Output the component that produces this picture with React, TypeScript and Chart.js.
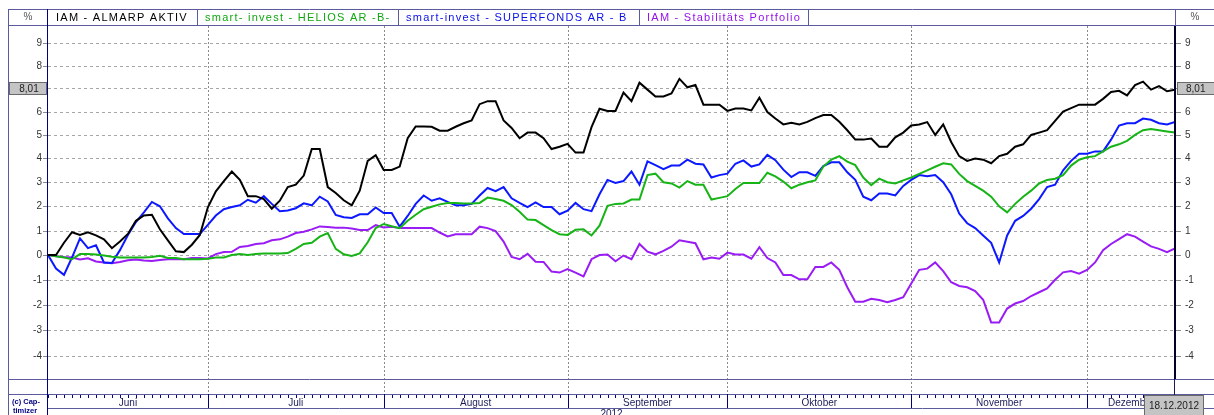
import React, { useEffect, useRef } from 'react';
import { Chart, registerables } from 'chart.js';

Chart.register(...registerables);

// ---- data (cumulative performance in %, one value per trading day) ----
const almarp = [
  0, 0, 0.5, 0.93, 0.82, 0.93, 0.8, 0.64, 0.28, 0.55,
  0.86, 1.4, 1.62, 1.65, 1.05, 0.6, 0.15, 0.12, 0.42, 0.82,
  1.96, 2.62, 3.05, 3.45, 3.1, 2.42, 2.42, 2.3, 1.9, 2.23,
  2.8, 2.9, 3.28, 4.4, 4.4, 2.8, 2.55, 2.25, 2.04, 2.65,
  3.9, 4.14, 3.52, 3.52, 3.66, 4.86, 5.36, 5.36, 5.35, 5.18,
  5.18, 5.35, 5.5, 5.62, 6.32, 6.45, 6.45, 5.62, 5.3, 4.86,
  5.1, 5.1, 4.86, 4.4, 4.5, 4.62, 4.25, 4.25, 5.33, 6.12,
  6.03, 6.03, 6.82, 6.45, 7.25, 6.95, 6.65, 6.65, 6.78, 7.42,
  7.05, 7.15, 6.3, 6.3, 6.3, 6.03, 6.13, 6.13, 6.05, 6.6,
  5.98, 5.7, 5.45, 5.52, 5.45, 5.56, 5.72, 5.85, 5.85, 5.56,
  5.2, 4.8, 4.8, 4.85, 4.5, 4.5, 4.9, 5.1, 5.4, 5.45,
  5.55, 5.0, 5.45, 4.7, 4.1, 3.9, 4.0, 3.95, 3.8, 4.1,
  4.2, 4.5, 4.6, 5.0, 5.1, 5.2, 5.6, 6.0, 6.15, 6.3,
  6.3, 6.3, 6.55, 6.85, 6.9, 6.7, 7.15, 7.3, 6.95, 7.1,
  6.88, 6.95,
];

const helios = [
  0, -0.05, -0.1, -0.17, 0.04, 0.04, 0.02, -0.02, -0.07, -0.1,
  -0.1, -0.1, -0.1, -0.08, -0.03, -0.12, -0.12, -0.17, -0.17, -0.17,
  -0.15, -0.1, -0.1, 0.0, 0.04, 0.0, 0.04, 0.06, 0.06, 0.06,
  0.08, 0.25, 0.45, 0.5, 0.75, 0.9, 0.25, 0.03, -0.04, 0.07,
  0.52, 1.1, 1.27, 1.18, 1.1, 1.4, 1.65, 1.88, 1.98, 2.08,
  2.14, 2.14, 2.12, 2.12, 2.14, 2.36, 2.3, 2.23, 2.05, 1.77,
  1.45, 1.43, 1.22, 1.02, 0.85, 0.82, 1.03, 1.05, 0.8, 1.2,
  2.02, 2.1, 2.12, 2.28, 2.28, 3.3, 3.36, 3.0, 2.95, 2.78,
  3.05, 2.9, 2.9, 2.28, 2.35, 2.42, 2.72, 2.97, 2.97, 2.97,
  3.4, 3.25, 3.03, 2.75, 2.9, 3.0, 3.08, 3.66, 3.95, 4.1,
  3.87, 3.72, 3.2, 2.88, 3.15, 3.0, 2.95, 3.08, 3.2, 3.35,
  3.5, 3.65, 3.8, 3.75, 3.35, 3.05, 2.85, 2.65, 2.4, 2.0,
  1.75, 2.1, 2.4, 2.65, 2.95, 3.1, 3.15, 3.3, 3.7, 3.95,
  4.05, 4.1, 4.3, 4.5, 4.6, 4.75, 5.0, 5.2, 5.25, 5.2,
  5.15, 5.1,
];

const superfonds = [
  0, -0.55, -0.8, -0.1, 0.68, 0.28, 0.4, -0.3, -0.32, 0.2,
  0.82, 1.35, 1.75, 2.18, 2.0, 1.5, 1.1, 0.86, 0.86, 0.86,
  1.23, 1.62, 1.88, 1.97, 2.04, 2.27, 2.15, 2.42, 2.1, 1.8,
  1.83, 1.92, 2.12, 2.04, 2.4, 2.2, 1.64, 1.55, 1.52, 1.67,
  1.67, 1.95, 1.72, 1.72, 1.16, 1.6, 2.1, 2.45, 2.23, 2.33,
  2.18, 2.04, 2.04, 2.1, 2.45, 2.76, 2.63, 2.8, 2.33, 2.14,
  1.97, 2.16, 1.97, 1.97, 1.67, 1.82, 2.14, 1.88, 1.8, 2.5,
  3.1, 2.97, 3.05, 3.45, 2.9, 3.88, 3.72, 3.55, 3.7, 3.7,
  3.95, 3.78, 3.75, 3.2, 3.3, 3.36, 3.78, 3.92, 3.66, 3.75,
  4.15, 3.93, 3.53, 3.22, 3.42, 3.42, 3.27, 3.68, 3.84, 3.84,
  3.42, 3.1, 2.4, 2.25, 2.53, 2.53, 2.45, 2.85, 3.1, 3.3,
  3.25, 3.3, 3.0, 2.5, 1.7, 1.3, 1.1, 0.8, 0.5, -0.3,
  0.8, 1.4, 1.6, 1.9, 2.3, 2.8, 2.9, 3.5, 3.9, 4.2,
  4.2, 4.3, 4.3, 4.8, 5.4, 5.5, 5.5, 5.7, 5.65, 5.5,
  5.45, 5.55,
];

const stabil = [
  0, -0.05, -0.08, -0.1, -0.18, -0.13, -0.26, -0.3, -0.33, -0.28,
  -0.21, -0.18, -0.22, -0.24, -0.2, -0.17, -0.17, -0.17, -0.12, -0.12,
  -0.14, 0.04, 0.12, 0.13, 0.33, 0.37, 0.45, 0.48, 0.6, 0.64,
  0.75, 0.9, 0.95, 1.05, 1.17, 1.15, 1.12, 1.12, 1.08, 1.02,
  1.02, 1.22, 1.13, 1.16, 1.1, 1.1, 1.1, 1.1, 1.1, 0.92,
  0.76, 0.85, 0.85, 0.85, 1.16, 1.1, 0.98, 0.55, -0.08, -0.17,
  0.05, -0.27, -0.28, -0.67, -0.71, -0.57, -0.71, -0.86, -0.17, 0.0,
  0.02, -0.25, -0.02, -0.17, 0.45, 0.14, 0.03, 0.17, 0.34, 0.6,
  0.54, 0.48, -0.17, -0.1, -0.15, 0.1, 0.02, 0.02, -0.15, 0.32,
  -0.12, -0.3, -0.81, -0.81, -0.98, -0.98, -0.48, -0.48, -0.3, -0.6,
  -1.3, -1.88, -1.88, -1.76, -1.81, -1.9, -1.81, -1.7, -1.15, -0.6,
  -0.55, -0.3, -0.65, -1.1, -1.25, -1.3, -1.45, -1.8, -2.7, -2.7,
  -2.15, -1.95, -1.85, -1.65, -1.5, -1.35, -1.0, -0.7, -0.65, -0.75,
  -0.6, -0.3, 0.2, 0.45, 0.65, 0.85, 0.75, 0.55, 0.35, 0.25,
  0.12, 0.27,
];

const seriesNames = [
  'IAM - ALMARP AKTIV',
  'smart- invest - HELIOS AR -B-',
  'smart-invest - SUPERFONDS AR - B',
  'IAM - Stabilitäts Portfolio',
];
const seriesColors = ['#000000', '#17b417', '#0c18ff', '#9a1cf4'];
const legendTextColors = ['#000000', '#10a810', '#0a10e8', '#9414e8'];

const yTicks = [-4, -3, -2, -1, 0, 1, 2, 3, 4, 5, 6, 7, 8, 9];
const monthNames = ['Juni', 'Juli', 'August', 'September', 'Oktober', 'November', 'Dezember'];
const monthStarts = [0, 20, 42, 65, 85, 108, 130];
const lastIndex = 141;
const yearLabel = '2012';
const lastValueLabel = '8,01';
const lastValueAt = 7;
const lastDateLabel = '18.12.2012';
const copyright = ['(c) Cap-', 'timizer'];

const W = 1214;
const H = 415;
const FRAME = '#5a5a9c';
const NAVY = '#000080';
const FONT = '"Liberation Sans", Arial, sans-serif';

function hline(ctx: CanvasRenderingContext2D, x1: number, x2: number, y: number) {
  ctx.beginPath();
  ctx.moveTo(x1, y + 0.5);
  ctx.lineTo(x2, y + 0.5);
  ctx.stroke();
}
function vline(ctx: CanvasRenderingContext2D, x: number, y1: number, y2: number) {
  ctx.beginPath();
  ctx.moveTo(x + 0.5, y1);
  ctx.lineTo(x + 0.5, y2);
  ctx.stroke();
}

const framePlugin = {
  id: 'captimizerFrame',
  beforeDraw(chart: any) {
    const { ctx } = chart;
    ctx.save();
    ctx.fillStyle = '#ffffff';
    ctx.fillRect(0, 0, chart.width, chart.height);
    ctx.restore();
  },
  beforeDatasetsDraw(chart: any) {
    const { ctx, chartArea: ca, scales } = chart;
    const xs = scales.x;
    const ys = scales.y;
    ctx.save();
    ctx.lineWidth = 1;
    ctx.strokeStyle = '#a6a6a6';
    ctx.setLineDash([3, 3]);
    for (const t of yTicks) {
      const py = Math.round(ys.getPixelForValue(100 + t));
      hline(ctx, ca.left, ca.right, py);
    }
    ctx.strokeStyle = '#8c8c8c';
    ctx.setLineDash([2, 2]);
    for (let m = 1; m < monthStarts.length; m++) {
      const px = Math.round(xs.getPixelForValue(monthStarts[m]));
      vline(ctx, px, ca.top, 394);
    }
    ctx.restore();
  },
  afterDatasetsDraw(chart: any) {
    const { ctx, chartArea: ca, scales } = chart;
    const xs = scales.x;
    const ys = scales.y;
    const left = Math.round(ca.left);
    const right = Math.round(ca.right);
    ctx.save();
    ctx.setLineDash([]);
    ctx.lineWidth = 1;

    // frame lines
    ctx.strokeStyle = FRAME;
    hline(ctx, 8, W, 9);
    hline(ctx, 8, W, 25);
    vline(ctx, 8, 9, H);
    for (const sx of [197, 398, 639, 808]) vline(ctx, sx, 9, 26);
    vline(ctx, right, 9, 26);
    hline(ctx, 8, W, 379);
    hline(ctx, 8, W, 394);
    hline(ctx, left, W, 408);

    ctx.strokeStyle = NAVY;
    vline(ctx, left - 1, 9, H);

    // right axis (thick)
    ctx.fillStyle = '#00002a';
    ctx.fillRect(right - 1, ca.top, 2, 379 - ca.top);
    ctx.strokeStyle = '#1a1a50';
    vline(ctx, right - 1, 379, 395);

    // y labels + ticks
    ctx.font = `10px ${FONT}`;
    ctx.fillStyle = '#333333';
    ctx.textBaseline = 'middle';
    ctx.strokeStyle = '#8a8a8a';
    for (const t of yTicks) {
      const py = Math.round(ys.getPixelForValue(100 + t));
      ctx.textAlign = 'right';
      ctx.fillText(String(t), 42, py);
      ctx.textAlign = 'left';
      ctx.fillText(String(t), right + 10, py);
      hline(ctx, 43, left - 1, py);
      hline(ctx, right + 1, right + 6, py);
    }

    // bottom axis: daily ticks, month separators, labels
    ctx.strokeStyle = NAVY;
    for (let i = 0; i <= lastIndex; i++) {
      const px = Math.round(xs.getPixelForValue(i));
      vline(ctx, px, 395, 398);
    }
    for (let m = 1; m < monthStarts.length; m++) {
      const px = Math.round(xs.getPixelForValue(monthStarts[m]));
      vline(ctx, px, 394, 408);
    }
    ctx.fillStyle = '#1c1c5a';
    ctx.font = `10px ${FONT}`;
    ctx.textAlign = 'center';
    ctx.textBaseline = 'middle';
    for (let m = 0; m < monthNames.length; m++) {
      const a = xs.getPixelForValue(monthStarts[m]);
      const b = xs.getPixelForValue(m + 1 < monthStarts.length ? monthStarts[m + 1] : lastIndex);
      ctx.fillText(monthNames[m], (a + b) / 2, 403);
    }
    ctx.textBaseline = 'top';
    ctx.fillText(yearLabel, (left + right) / 2, 409);

    // copyright
    ctx.fillStyle = NAVY;
    ctx.font = `bold 7.5px ${FONT}`;
    ctx.textAlign = 'left';
    ctx.textBaseline = 'middle';
    ctx.fillText(copyright[0], 12, 402);
    ctx.fillText(copyright[1], 13, 411);

    // header
    ctx.font = `10px ${FONT}`;
    ctx.fillStyle = '#555555';
    ctx.textAlign = 'center';
    ctx.fillText('%', 28, 17);
    ctx.fillText('%', 1195, 17);
    const starts = [left + 8, 205, 406, 647];
    ctx.font = `11px ${FONT}`;
    ctx.textAlign = 'left';
    (ctx as any).letterSpacing = '1.25px';
    for (let k = 0; k < seriesNames.length; k++) {
      ctx.fillStyle = legendTextColors[k];
      ctx.fillText(seriesNames[k], starts[k], 17.5);
    }
    (ctx as any).letterSpacing = '0px';

    // last value boxes
    const vy = Math.round(ys.getPixelForValue(100 + lastValueAt));
    ctx.fillStyle = '#c4c4c4';
    ctx.strokeStyle = '#6a6a6a';
    ctx.fillRect(9, vy - 6, 38, 13);
    ctx.strokeRect(9.5, vy - 5.5, 37, 12);
    ctx.fillRect(right + 2, vy - 6, W - right - 2, 13);
    ctx.strokeRect(right + 2.5, vy - 5.5, W - right - 2, 12);
    ctx.fillStyle = '#222222';
    ctx.font = `10px ${FONT}`;
    ctx.textAlign = 'center';
    ctx.fillText(lastValueLabel, 29, vy + 1);
    ctx.textAlign = 'left';
    ctx.fillText(lastValueLabel, right + 11, vy + 1);

    // last date box
    ctx.fillStyle = '#c4c4c4';
    ctx.fillRect(1144, 395, 60, 20);
    ctx.strokeStyle = '#6a6a6a';
    ctx.strokeRect(1144.5, 395.5, 59, 20);
    ctx.fillStyle = '#222222';
    ctx.textAlign = 'center';
    ctx.textBaseline = 'middle';
    ctx.font = `10px ${FONT}`;
    ctx.fillText(lastDateLabel, 1174, 406);

    ctx.restore();
  },
};

export default function App() {
  const ref = useRef<HTMLCanvasElement | null>(null);

  useEffect(() => {
    document.body.style.margin = '0';
    const canvas = ref.current;
    if (!canvas) return;
    const all = [almarp, helios, superfonds, stabil];
    const datasets = all.map((vals, k) => ({
      label: seriesNames[k],
      data: vals.map((v, i) => ({ x: i, y: 100 + v })),
      borderColor: seriesColors[k],
      backgroundColor: seriesColors[k],
      borderWidth: 2,
      pointRadius: 0,
      tension: 0,
      fill: false,
      order: k,
    }));
    const chart = new Chart(canvas, {
      type: 'line',
      data: { datasets },
      options: {
        responsive: false,
        animation: false,
        events: [],
        layout: { padding: { left: 48, right: 39, top: 26, bottom: 36 } },
        plugins: { legend: { display: false }, tooltip: { enabled: false } },
        scales: {
          x: { type: 'linear', display: false, min: 0, max: lastIndex },
          y: { type: 'logarithmic', display: false, min: 95.09, max: 109.75 },
        },
      },
      plugins: [framePlugin],
    } as any);
    return () => chart.destroy();
  }, []);

  return (
    <div style={{ width: W, height: H }}>
      <canvas ref={ref} width={W} height={H} style={{ display: 'block', width: W, height: H }} />
    </div>
  );
}
